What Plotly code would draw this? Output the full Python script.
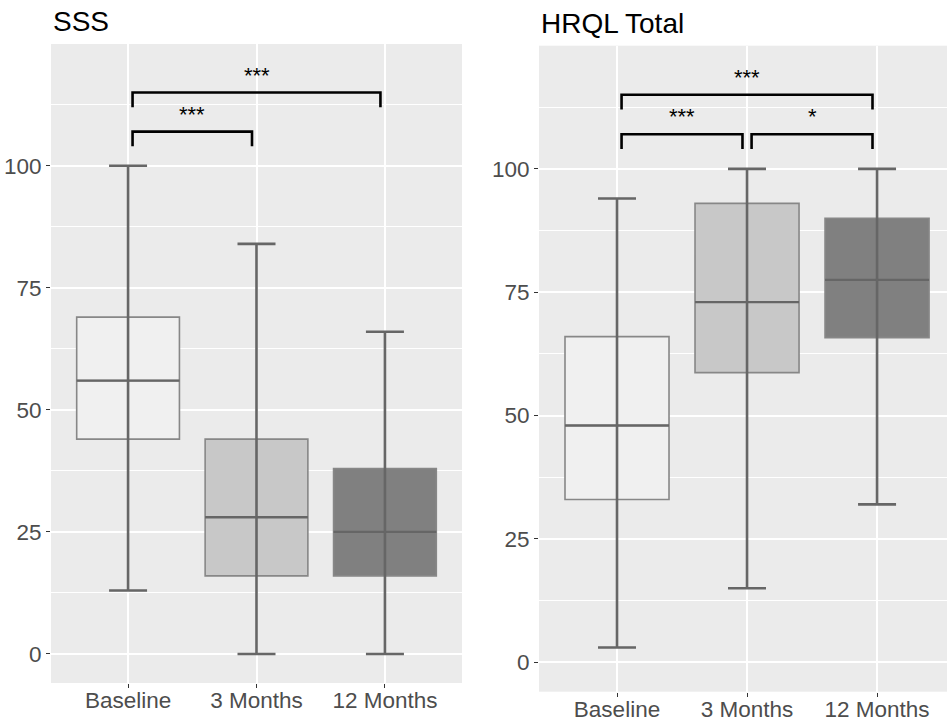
import plotly.graph_objects as go

# ---------------- data ----------------
categories = ["Baseline", "3 Months", "12 Months"]
fills = ["#F0F0F0", "#C8C8C8", "#808080"]

sss_min = [13, 0, 0]
sss_q1 = [44, 16, 16]
sss_median = [56, 28, 25]
sss_q3 = [69, 44, 38]
sss_max = [100, 84, 66]

hrql_min = [3, 15, 32]
hrql_q1 = [33, 58.7, 65.8]
hrql_median = [48, 73, 77.5]
hrql_q3 = [66, 93, 90]
hrql_max = [94, 100, 100]

# comparisons: (group a, group b, bracket height, label)
sss_comp_a = [0, 0]
sss_comp_b = [1, 2]
sss_comp_h = [107, 115]
sss_comp_lab = ["***", "***"]

hrql_comp_a = [0, 1, 0]
hrql_comp_b = [1, 2, 2]
hrql_comp_h = [107, 107, 115]
hrql_comp_lab = ["***", "*", "***"]

y_ticks = [0, 25, 50, 75, 100]

FONT = "Liberation Sans, Arial, sans-serif"
W, H = 947, 720

fig = go.Figure()

def add_panel(xa, ya, mins, q1s, meds, q3s, maxs, ca, cb, ch, cl):
    xref = "x" if xa == "" else "x" + xa
    yref = "y" if ya == "" else "y" + ya
    for i, cat in enumerate(categories):
        fig.add_trace(go.Box(
            x=[i], q1=[q1s[i]], median=[meds[i]], q3=[q3s[i]],
            lowerfence=[q1s[i]], upperfence=[q3s[i]],
            width=0.8, fillcolor=fills[i],
            line=dict(color="#878787", width=1.6),
            boxpoints=False, showlegend=False, hoverinfo="skip",
            xaxis=xref, yaxis=yref,
        ))
    for i, cat in enumerate(categories):
        # median segment (darker)
        fig.add_trace(go.Scatter(
            x=[i - 0.4, i + 0.4], y=[meds[i], meds[i]], mode="lines",
            line=dict(color="#666666", width=2.4),
            showlegend=False, hoverinfo="skip", xaxis=xref, yaxis=yref,
        ))
        # error-bar style whisker from min to max
        fig.add_trace(go.Scatter(
            x=[i], y=[meds[i]], mode="markers",
            marker=dict(color="rgba(0,0,0,0)", size=1),
            error_y=dict(type="data", symmetric=False,
                         array=[maxs[i] - meds[i]],
                         arrayminus=[meds[i] - mins[i]],
                         width=19, thickness=2.6, color="#666666"),
            showlegend=False, hoverinfo="skip", xaxis=xref, yaxis=yref,
        ))
    off = 0.035
    for a, b, h, lab in zip(ca, cb, ch, cl):
        fig.add_trace(go.Scatter(
            x=[a + off, a + off, b - off, b - off],
            y=[h - 3, h, h, h - 3], mode="lines",
            line=dict(color="black", width=2.6),
            showlegend=False, hoverinfo="skip", xaxis=xref, yaxis=yref,
        ))
        fig.add_annotation(
            x=(a + b) / 2, y=h + 3.6, xref=xref, yref=yref,
            text=lab, showarrow=False, yanchor="middle",
            font=dict(family=FONT, size=22, color="black"),
        )

add_panel("", "", sss_min, sss_q1, sss_median, sss_q3, sss_max,
          sss_comp_a, sss_comp_b, sss_comp_h, sss_comp_lab)
add_panel("2", "2", hrql_min, hrql_q1, hrql_median, hrql_q3, hrql_max,
          hrql_comp_a, hrql_comp_b, hrql_comp_h, hrql_comp_lab)

axis_common = dict(
    showline=False, zeroline=False, ticks="outside", ticklen=4,
    tickwidth=1, tickcolor="#333333", automargin=False,
    tickfont=dict(family=FONT, size=22.5, color="#4D4D4D"),
    gridcolor="white", gridwidth=1.6,
)

fig.update_layout(
    width=W, height=H,
    margin=dict(l=0, r=0, t=0, b=0),
    paper_bgcolor="white", plot_bgcolor="#EBEBEB",
    xaxis=dict(domain=[51 / W, 462 / W], range=[-0.6, 2.6], ticklabelstandoff=-7,
               tickvals=[0, 1, 2], ticktext=categories, anchor="y", **axis_common),
    yaxis=dict(domain=[1 - 683 / H, 1 - 44 / H], range=[-5.95, 124.95],
               tickvals=y_ticks, anchor="x",
               minor=dict(dtick=12.5, tick0=0, showgrid=True, gridcolor="white",
                          gridwidth=0.8, ticks=""),
               **axis_common),
    xaxis2=dict(domain=[539 / W, 1.0], range=[-0.6, 2.538], ticklabelstandoff=-7,
                tickvals=[0, 1, 2], ticktext=categories, anchor="y2", **axis_common),
    yaxis2=dict(domain=[1 - 691.7 / H, 1 - 45.7 / H], range=[-5.95, 124.95],
                tickvals=y_ticks, anchor="x2",
                minor=dict(dtick=12.5, tick0=0, showgrid=True, gridcolor="white",
                           gridwidth=0.8, ticks=""),
                **axis_common),
)

fig.add_annotation(x=51 / W, y=1 - 21 / H, xref="paper", yref="paper",
                   text="SSS", showarrow=False, xanchor="left", yanchor="middle",
                   font=dict(family=FONT, size=28, color="black"))
fig.add_annotation(x=539 / W, y=1 - 23 / H, xref="paper", yref="paper",
                   text="HRQL Total", showarrow=False, xanchor="left", yanchor="middle",
                   font=dict(family=FONT, size=28, color="black"))

fig.write_html("out.html", config={"displayModeBar": False},
               post_script="document.body.style.margin='0';document.body.style.overflow='hidden';")
